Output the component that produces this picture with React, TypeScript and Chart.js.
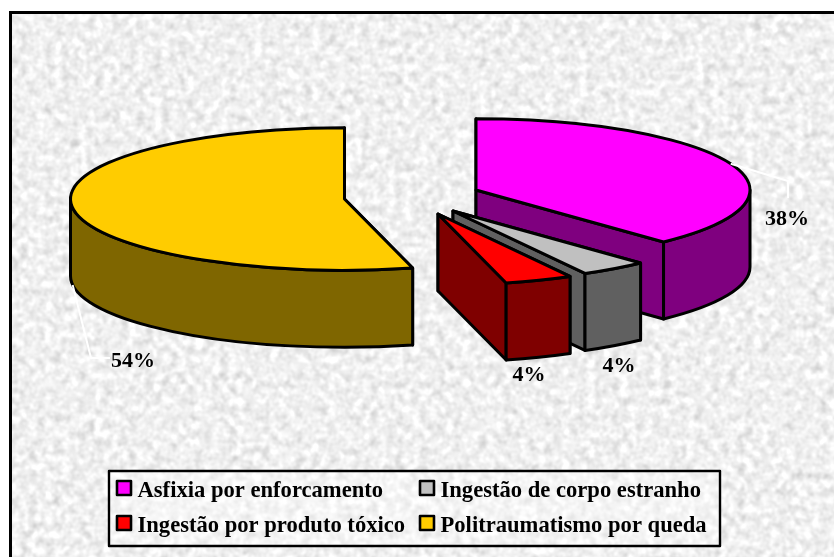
import React, { useEffect, useRef } from "react";
import { Chart, registerables } from "chart.js";

Chart.register(...registerables);

const categories = [
  "Asfixia por enforcamento",
  "Ingestão de corpo estranho",
  "Ingestão por produto tóxico",
  "Politraumatismo por queda",
];
const values = [38, 4, 4, 54];
const topColors = ["#FF00FF", "#C0C0C0", "#FF0000", "#FFCC00"];
const wallColors = ["#7F007F", "#606060", "#7F0000", "#7F6600"];

// Screen position of each exploded slice's apex, tilt and extrusion of the 3D pie
const apexes = [
  { x: 476, y: 190 },
  { x: 453, y: 211 },
  { x: 438, y: 214 },
  { x: 344.5, y: 199 },
];
const TILT = 0.26;
const DEPTH = 77;
const LINE = 3;
const LABEL_FONT = 'bold 22px "Liberation Serif", "Times New Roman", serif';
const LEGEND_FONT = 'bold 22.6px "Liberation Serif", "Times New Roman", serif';

// Data label centres and leader elbows
const labelPos = [
  { x: 787, y: 219 },
  { x: 619, y: 366 },
  { x: 529, y: 375 },
  { x: 133, y: 361 },
];
const leaders: ({ x: number; y: number }[] | null)[] = [
  [{ x: 788, y: 181 }, { x: 788, y: 198 }],
  null,
  null,
  [{ x: 91, y: 358 }, { x: 110, y: 358 }],
];

// Legend layout
const legendBox = { x: 109, y: 471, w: 611, h: 75 };
const legendCells = [
  { sx: 117, sy: 481, tx: 137.5, ty: 497 },
  { sx: 420, sy: 481, tx: 440.5, ty: 497 },
  { sx: 117, sy: 516, tx: 137.5, ty: 532 },
  { sx: 420, sy: 516, tx: 440.5, ty: 532 },
];

const pie3d = {
  id: "pie3d",
  beforeDatasetsDraw(chart: any) {
    const ctx: CanvasRenderingContext2D = chart.ctx;
    const arcs = chart.getDatasetMeta(0).data;
    ctx.lineJoin = "round";
    ctx.lineWidth = LINE;
    ctx.strokeStyle = "#000";

    values.forEach((_, i) => {
      const arc = arcs[i];
      const { x, y, startAngle: a, endAngle: b, outerRadius: R } = arc.getProps(
        ["x", "y", "startAngle", "endAngle", "outerRadius"],
        true
      );
      const p = apexes[i];
      const ry = R * TILT;
      const edge = (t: number) => ({
        x: p.x + R * Math.cos(t),
        y: p.y + ry * Math.sin(t),
      });

      // cut faces
      for (const t of [a, b]) {
        const e = edge(t);
        ctx.beginPath();
        ctx.moveTo(p.x, p.y);
        ctx.lineTo(e.x, e.y);
        ctx.lineTo(e.x, e.y + DEPTH);
        ctx.lineTo(p.x, p.y + DEPTH);
        ctx.closePath();
        ctx.fillStyle = wallColors[i];
        ctx.fill();
        ctx.stroke();
      }

      // outer wall (front half only)
      const w0 = Math.max(a, 0);
      const w1 = Math.min(b, Math.PI);
      if (w1 > w0) {
        ctx.beginPath();
        ctx.ellipse(p.x, p.y, R, ry, 0, w0, w1);
        ctx.ellipse(p.x, p.y + DEPTH, R, ry, 0, w1, w0, true);
        ctx.closePath();
        ctx.fillStyle = wallColors[i];
        ctx.fill();
        ctx.stroke();
      }

      // top face: the library's own arc element under a tilt transform
      ctx.save();
      ctx.translate(p.x, p.y);
      ctx.scale(1, TILT);
      ctx.translate(-x, -y);
      arc.draw(ctx);
      ctx.restore();

      ctx.beginPath();
      ctx.moveTo(p.x, p.y);
      ctx.ellipse(p.x, p.y, R, ry, 0, a, b);
      ctx.closePath();
      ctx.stroke();
    });
    return false;
  },
  afterDraw(chart: any) {
    const ctx: CanvasRenderingContext2D = chart.ctx;
    const arcs = chart.getDatasetMeta(0).data;
    ctx.save();

    // leaders + labels
    ctx.font = LABEL_FONT;
    ctx.textAlign = "center";
    ctx.textBaseline = "middle";
    values.forEach((v, i) => {
      const chain = leaders[i];
      if (chain) {
        const { startAngle: a, endAngle: b, outerRadius: R } = arcs[i].getProps(
          ["startAngle", "endAngle", "outerRadius"],
          true
        );
        const m = (a + b) / 2;
        const px = apexes[i].x + R * Math.cos(m);
        const py = apexes[i].y + R * TILT * Math.sin(m) + (i === 3 ? DEPTH : 0);
        ctx.beginPath();
        ctx.moveTo(px, py);
        chain.forEach((q) => ctx.lineTo(q.x, q.y));
        ctx.strokeStyle = "#fff";
        ctx.lineWidth = 2;
        ctx.stroke();
      }
      ctx.fillStyle = "#000";
      ctx.fillText(`${v}%`, labelPos[i].x, labelPos[i].y);
    });

    // legend
    ctx.fillStyle = "rgba(255,255,255,0.35)";
    ctx.fillRect(legendBox.x, legendBox.y, legendBox.w, legendBox.h);
    ctx.strokeStyle = "#000";
    ctx.lineWidth = 2.4;
    ctx.strokeRect(legendBox.x, legendBox.y, legendBox.w, legendBox.h);
    ctx.font = LEGEND_FONT;
    ctx.textAlign = "left";
    ctx.textBaseline = "alphabetic";
    categories.forEach((c, i) => {
      const cell = legendCells[i];
      ctx.fillStyle = topColors[i];
      ctx.fillRect(cell.sx, cell.sy, 14, 14);
      ctx.lineWidth = 2.6;
      ctx.strokeRect(cell.sx, cell.sy, 14, 14);
      ctx.fillStyle = "#000";
      ctx.fillText(c, cell.tx, cell.ty);
    });
    ctx.restore();
  },
};

const noiseSvg = `<svg xmlns='http://www.w3.org/2000/svg' width='834' height='557'><filter id='n' x='0' y='0' width='100%' height='100%' color-interpolation-filters='sRGB'><feTurbulence type='fractalNoise' baseFrequency='0.12' numOctaves='2' seed='7'/><feColorMatrix type='matrix' values='0.2 0.2 0 0 0.74  0.2 0.2 0 0 0.74  0.2 0.2 0 0 0.74  0 0 0 0 1'/></filter><rect width='834' height='557' filter='url(#n)'/></svg>`;

export default function App() {
  const ref = useRef<HTMLCanvasElement>(null);
  useEffect(() => {
    document.body.style.margin = "0";
    document.body.style.background = "#fff";
    const chart = new Chart(ref.current!, {
      type: "pie",
      data: {
        labels: categories,
        datasets: [{ data: values, backgroundColor: topColors, borderWidth: 0 }],
      },
      options: {
        animation: false,
        responsive: false,
        layout: { padding: 4.5 },
        plugins: { legend: { display: false }, tooltip: { enabled: false } },
      },
      plugins: [pie3d],
    } as any);
    return () => chart.destroy();
  }, []);
  return (
    <div style={{ position: "relative", width: 834, height: 557, overflow: "hidden" }}>
      <div
        style={{
          position: "absolute",
          left: 9,
          top: 11,
          width: 840,
          height: 560,
          borderLeft: "3px solid #000",
          borderTop: "3px solid #000",
          backgroundImage: `url("data:image/svg+xml,${encodeURIComponent(noiseSvg)}")`,
        }}
      />
      <canvas
        ref={ref}
        width={834}
        height={557}
        style={{ position: "absolute", left: 0, top: 0, width: 834, height: 557 }}
      />
    </div>
  );
}
